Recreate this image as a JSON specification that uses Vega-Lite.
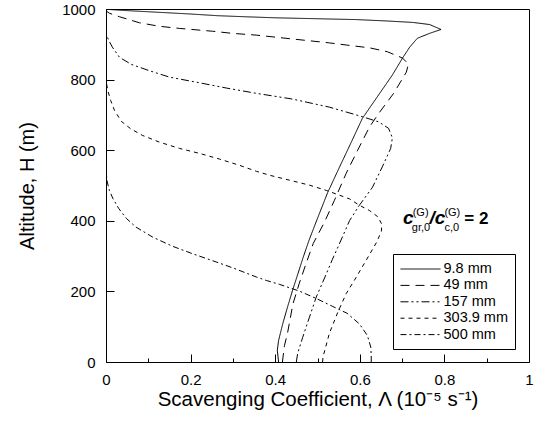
{
  "$schema": "https://vega.github.io/schema/vega-lite/v6.json",
  "autosize": {"type": "none"},
  "padding": {"left": 106, "top": 9, "right": 8, "bottom": 70},
  "width": 423,
  "height": 353,
  "background": "white",
  "config": {
    "view": {"stroke": "black", "strokeWidth": 1},
    "axis": {"labelFont": "Liberation Sans", "titleFont": "Liberation Sans", "labelColor": "black", "titleColor": "black", "tickColor": "black", "domain": false, "grid": false, "titleFontWeight": "normal"},
    "text": {"font": "Liberation Sans"}
  },
  "datasets": {
    "curves": [
      {"s": "9.8 mm", "L": 0.408, "H": 0},
      {"s": "9.8 mm", "L": 0.405, "H": 33},
      {"s": "9.8 mm", "L": 0.408, "H": 61},
      {"s": "9.8 mm", "L": 0.418, "H": 109},
      {"s": "9.8 mm", "L": 0.429, "H": 155},
      {"s": "9.8 mm", "L": 0.441, "H": 203},
      {"s": "9.8 mm", "L": 0.454, "H": 251},
      {"s": "9.8 mm", "L": 0.466, "H": 296},
      {"s": "9.8 mm", "L": 0.480, "H": 345},
      {"s": "9.8 mm", "L": 0.501, "H": 410},
      {"s": "9.8 mm", "L": 0.524, "H": 480},
      {"s": "9.8 mm", "L": 0.552, "H": 552},
      {"s": "9.8 mm", "L": 0.580, "H": 623},
      {"s": "9.8 mm", "L": 0.606, "H": 690},
      {"s": "9.8 mm", "L": 0.647, "H": 761},
      {"s": "9.8 mm", "L": 0.677, "H": 813},
      {"s": "9.8 mm", "L": 0.701, "H": 861},
      {"s": "9.8 mm", "L": 0.718, "H": 892},
      {"s": "9.8 mm", "L": 0.736, "H": 917},
      {"s": "9.8 mm", "L": 0.765, "H": 931},
      {"s": "9.8 mm", "L": 0.792, "H": 942},
      {"s": "9.8 mm", "L": 0.765, "H": 956},
      {"s": "9.8 mm", "L": 0.725, "H": 962},
      {"s": "9.8 mm", "L": 0.665, "H": 966},
      {"s": "9.8 mm", "L": 0.592, "H": 970},
      {"s": "9.8 mm", "L": 0.402, "H": 975},
      {"s": "9.8 mm", "L": 0.330, "H": 978},
      {"s": "9.8 mm", "L": 0.264, "H": 981},
      {"s": "9.8 mm", "L": 0.197, "H": 986},
      {"s": "9.8 mm", "L": 0.150, "H": 989},
      {"s": "9.8 mm", "L": 0.103, "H": 992},
      {"s": "9.8 mm", "L": 0.056, "H": 995},
      {"s": "9.8 mm", "L": 0.015, "H": 998},
      {"s": "9.8 mm", "L": 0.0, "H": 1000},
      {"s": "49 mm", "L": 0.417, "H": 0},
      {"s": "49 mm", "L": 0.422, "H": 47},
      {"s": "49 mm", "L": 0.429, "H": 81},
      {"s": "49 mm", "L": 0.442, "H": 165},
      {"s": "49 mm", "L": 0.457, "H": 223},
      {"s": "49 mm", "L": 0.473, "H": 279},
      {"s": "49 mm", "L": 0.490, "H": 336},
      {"s": "49 mm", "L": 0.516, "H": 395},
      {"s": "49 mm", "L": 0.540, "H": 458},
      {"s": "49 mm", "L": 0.568, "H": 535},
      {"s": "49 mm", "L": 0.595, "H": 600},
      {"s": "49 mm", "L": 0.623, "H": 666},
      {"s": "49 mm", "L": 0.647, "H": 708},
      {"s": "49 mm", "L": 0.680, "H": 761},
      {"s": "49 mm", "L": 0.710, "H": 821},
      {"s": "49 mm", "L": 0.715, "H": 844},
      {"s": "49 mm", "L": 0.701, "H": 861},
      {"s": "49 mm", "L": 0.665, "H": 879},
      {"s": "49 mm", "L": 0.623, "H": 890},
      {"s": "49 mm", "L": 0.568, "H": 898},
      {"s": "49 mm", "L": 0.528, "H": 904},
      {"s": "49 mm", "L": 0.355, "H": 926},
      {"s": "49 mm", "L": 0.299, "H": 931},
      {"s": "49 mm", "L": 0.252, "H": 937},
      {"s": "49 mm", "L": 0.174, "H": 945},
      {"s": "49 mm", "L": 0.126, "H": 951},
      {"s": "49 mm", "L": 0.079, "H": 961},
      {"s": "49 mm", "L": 0.032, "H": 978},
      {"s": "49 mm", "L": 0.008, "H": 988},
      {"s": "49 mm", "L": 0.001, "H": 994},
      {"s": "157 mm", "L": 0.450, "H": 0},
      {"s": "157 mm", "L": 0.453, "H": 24},
      {"s": "157 mm", "L": 0.465, "H": 70},
      {"s": "157 mm", "L": 0.481, "H": 127},
      {"s": "157 mm", "L": 0.497, "H": 184},
      {"s": "157 mm", "L": 0.521, "H": 250},
      {"s": "157 mm", "L": 0.535, "H": 290},
      {"s": "157 mm", "L": 0.550, "H": 330},
      {"s": "157 mm", "L": 0.576, "H": 401},
      {"s": "157 mm", "L": 0.599, "H": 444},
      {"s": "157 mm", "L": 0.630, "H": 495},
      {"s": "157 mm", "L": 0.654, "H": 555},
      {"s": "157 mm", "L": 0.673, "H": 605},
      {"s": "157 mm", "L": 0.677, "H": 635},
      {"s": "157 mm", "L": 0.668, "H": 662},
      {"s": "157 mm", "L": 0.645, "H": 680},
      {"s": "157 mm", "L": 0.606, "H": 695},
      {"s": "157 mm", "L": 0.528, "H": 722},
      {"s": "157 mm", "L": 0.440, "H": 745},
      {"s": "157 mm", "L": 0.356, "H": 761},
      {"s": "157 mm", "L": 0.285, "H": 776},
      {"s": "157 mm", "L": 0.221, "H": 791},
      {"s": "157 mm", "L": 0.150, "H": 807},
      {"s": "157 mm", "L": 0.103, "H": 825},
      {"s": "157 mm", "L": 0.060, "H": 843},
      {"s": "157 mm", "L": 0.032, "H": 863},
      {"s": "157 mm", "L": 0.015, "H": 892},
      {"s": "157 mm", "L": 0.006, "H": 912},
      {"s": "157 mm", "L": 0.0, "H": 931},
      {"s": "303.9 mm", "L": 0.512, "H": 0},
      {"s": "303.9 mm", "L": 0.513, "H": 14},
      {"s": "303.9 mm", "L": 0.528, "H": 81},
      {"s": "303.9 mm", "L": 0.548, "H": 141},
      {"s": "303.9 mm", "L": 0.568, "H": 194},
      {"s": "303.9 mm", "L": 0.592, "H": 241},
      {"s": "303.9 mm", "L": 0.615, "H": 288},
      {"s": "303.9 mm", "L": 0.640, "H": 340},
      {"s": "303.9 mm", "L": 0.651, "H": 370},
      {"s": "303.9 mm", "L": 0.652, "H": 390},
      {"s": "303.9 mm", "L": 0.643, "H": 411},
      {"s": "303.9 mm", "L": 0.623, "H": 429},
      {"s": "303.9 mm", "L": 0.599, "H": 444},
      {"s": "303.9 mm", "L": 0.576, "H": 462},
      {"s": "303.9 mm", "L": 0.544, "H": 476},
      {"s": "303.9 mm", "L": 0.521, "H": 486},
      {"s": "303.9 mm", "L": 0.481, "H": 501},
      {"s": "303.9 mm", "L": 0.434, "H": 515},
      {"s": "303.9 mm", "L": 0.387, "H": 529},
      {"s": "303.9 mm", "L": 0.356, "H": 540},
      {"s": "303.9 mm", "L": 0.316, "H": 557},
      {"s": "303.9 mm", "L": 0.268, "H": 575},
      {"s": "303.9 mm", "L": 0.221, "H": 591},
      {"s": "303.9 mm", "L": 0.174, "H": 605},
      {"s": "303.9 mm", "L": 0.126, "H": 623},
      {"s": "303.9 mm", "L": 0.086, "H": 642},
      {"s": "303.9 mm", "L": 0.058, "H": 661},
      {"s": "303.9 mm", "L": 0.036, "H": 682},
      {"s": "303.9 mm", "L": 0.020, "H": 713},
      {"s": "303.9 mm", "L": 0.011, "H": 741},
      {"s": "303.9 mm", "L": 0.004, "H": 770},
      {"s": "303.9 mm", "L": 0.0, "H": 798},
      {"s": "500 mm", "L": 0.627, "H": 0},
      {"s": "500 mm", "L": 0.627, "H": 18},
      {"s": "500 mm", "L": 0.626, "H": 42},
      {"s": "500 mm", "L": 0.618, "H": 75},
      {"s": "500 mm", "L": 0.599, "H": 108},
      {"s": "500 mm", "L": 0.570, "H": 138},
      {"s": "500 mm", "L": 0.535, "H": 158},
      {"s": "500 mm", "L": 0.497, "H": 180},
      {"s": "500 mm", "L": 0.457, "H": 201},
      {"s": "500 mm", "L": 0.410, "H": 220},
      {"s": "500 mm", "L": 0.379, "H": 231},
      {"s": "500 mm", "L": 0.355, "H": 241},
      {"s": "500 mm", "L": 0.299, "H": 267},
      {"s": "500 mm", "L": 0.252, "H": 287},
      {"s": "500 mm", "L": 0.204, "H": 307},
      {"s": "500 mm", "L": 0.157, "H": 328},
      {"s": "500 mm", "L": 0.110, "H": 354},
      {"s": "500 mm", "L": 0.071, "H": 382},
      {"s": "500 mm", "L": 0.048, "H": 407},
      {"s": "500 mm", "L": 0.030, "H": 435},
      {"s": "500 mm", "L": 0.016, "H": 464},
      {"s": "500 mm", "L": 0.008, "H": 486},
      {"s": "500 mm", "L": 0.003, "H": 510},
      {"s": "500 mm", "L": 0.0, "H": 540}
    ],
    "note": [
      {"part": "main", "t": "c", "L": 0.702, "H": 392},
      {"part": "main", "t": "/c", "L": 0.765, "H": 392},
      {"part": "script", "t": "(G)", "L": 0.725, "H": 415},
      {"part": "script", "t": "gr,0", "L": 0.723, "H": 372},
      {"part": "script", "t": "(G)", "L": 0.800, "H": 415},
      {"part": "script", "t": "c,0", "L": 0.800, "H": 372},
      {"part": "eq", "t": "= 2", "L": 0.847, "H": 392}
    ]
  },
  "layer": [
    {
      "data": {"name": "curves"},
      "mark": {"type": "line", "stroke": "black", "strokeWidth": 1, "clip": true},
      "encoding": {
        "x": {
          "field": "L", "type": "quantitative",
          "scale": {"domain": [0, 1], "nice": false},
          "axis": {
            "title": "Scavenging Coefficient, Λ (10⁻⁵ s⁻¹)",
            "titleFontSize": 20.5,
            "titlePadding": 2,
            "values": [0, 0.05, 0.1, 0.15, 0.2, 0.25, 0.3, 0.35, 0.4, 0.45, 0.5, 0.55, 0.6, 0.65, 0.7, 0.75, 0.8, 0.85, 0.9, 0.95, 1],
            "labelExpr": "round(datum.value*20) % 4 === 0 ? format(datum.value, '~g') : ''",
            "labelFontSize": 15,
            "labelPadding": 18,
            "labelFlush": false,
            "tickSize": {"condition": {"test": "round(datum.value*20) % 4 === 0", "value": -8}, "value": -4}
          }
        },
        "y": {
          "field": "H", "type": "quantitative",
          "scale": {"domain": [0, 1000], "nice": false},
          "axis": {
            "title": "Altitude, H (m)",
            "titleFontSize": 20,
            "titlePadding": 24,
            "values": [0, 50, 100, 150, 200, 250, 300, 350, 400, 450, 500, 550, 600, 650, 700, 750, 800, 850, 900, 950, 1000],
            "labelExpr": "datum.value % 200 === 0 ? format(datum.value, 'd') : ''",
            "labelFontSize": 15,
            "labelPadding": 19,
            "labelFlush": false,
            "tickSize": {"condition": {"test": "datum.value % 200 === 0", "value": -8}, "value": -4}
          }
        },
        "order": {"field": "H", "type": "quantitative"},
        "strokeDash": {
          "field": "s", "type": "nominal",
          "scale": {
            "domain": ["9.8 mm", "49 mm", "157 mm", "303.9 mm", "500 mm"],
            "range": [[1, 0], [9, 6], [8, 3, 2, 3, 2, 3], [4, 4], [6, 3, 2, 3]]
          },
          "legend": {
            "title": null,
            "orient": "none",
            "legendX": 287,
            "legendY": 245,
            "strokeColor": "black",
            "fillColor": "white",
            "padding": 7,
            "labelFont": "Liberation Sans",
            "labelFontSize": 14.5,
            "labelColor": "black",
            "symbolType": "M-2.667,0H2.667",
            "symbolSize": 225,
            "symbolOffset": 12.5,
            "symbolStrokeColor": "black",
            "symbolStrokeWidth": 1,
            "labelOffset": 15,
            "rowPadding": 1.4
          }
        }
      }
    },
    {
      "data": {"name": "note"},
      "transform": [{"filter": "datum.part === 'main'"}],
      "mark": {"type": "text", "align": "left", "baseline": "alphabetic", "fontSize": 19, "fontWeight": "bold", "fontStyle": "italic", "color": "black"},
      "encoding": {
        "x": {"field": "L", "type": "quantitative"},
        "y": {"field": "H", "type": "quantitative"},
        "text": {"field": "t"}
      }
    },
    {
      "data": {"name": "note"},
      "transform": [{"filter": "datum.part === 'script'"}],
      "mark": {"type": "text", "align": "left", "baseline": "alphabetic", "fontSize": 11, "color": "black"},
      "encoding": {
        "x": {"field": "L", "type": "quantitative"},
        "y": {"field": "H", "type": "quantitative"},
        "text": {"field": "t"}
      }
    },
    {
      "data": {"name": "note"},
      "transform": [{"filter": "datum.part === 'eq'"}],
      "mark": {"type": "text", "align": "left", "baseline": "alphabetic", "fontSize": 17, "fontWeight": "bold", "color": "black"},
      "encoding": {
        "x": {"field": "L", "type": "quantitative"},
        "y": {"field": "H", "type": "quantitative"},
        "text": {"field": "t"}
      }
    }
  ]
}
